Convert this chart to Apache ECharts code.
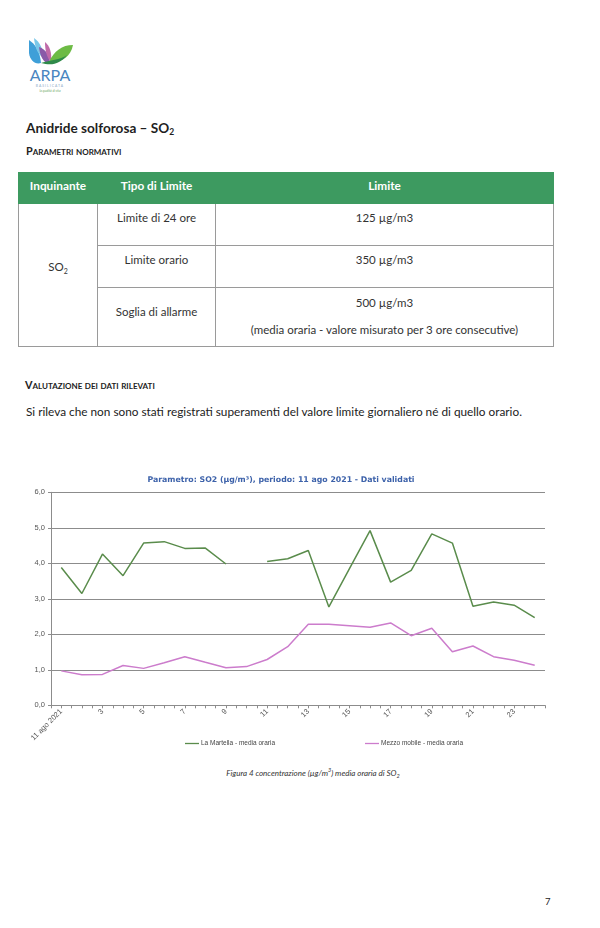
<!DOCTYPE html>
<html>
<head>
<meta charset="utf-8">
<script src="https://cdn.jsdelivr.net/npm/echarts@6/dist/echarts.min.js"></script>
<style>
  html, body { margin:0; padding:0; background:#fff; }
  body { width:600px; height:928px; position:relative; overflow:hidden; font-family:Lato, "Open Sans", sans-serif; color:#222; }
  .abs { position:absolute; }
  h1 { position:absolute; left:26px; top:120px; margin:0; font-size:13.6px; font-weight:bold; color:#1f1f1f; }
  h1 sub { font-size:8.5px; vertical-align:-2px; }
  .sc { position:absolute; margin:0; font-weight:bold; font-variant:small-caps; font-size:10.8px; color:#222; }
  table { position:absolute; left:18px; top:172px; width:536px; border-collapse:collapse; font-size:11.5px; color:#333; }
  td, th { border:1px solid #9a9a9a; text-align:center; vertical-align:middle; padding:0; }
  th { background:#3d9a60; color:#fff; font-weight:bold; font-size:11.8px; height:31px; padding-bottom:6px; box-sizing:border-box; border-color:#3d9a60; }
  td.r { height:42px; padding-bottom:14px; box-sizing:border-box; }
  p.txt { position:absolute; left:26px; top:404px; margin:0; font-size:11.8px; color:#222; white-space:nowrap; }
  #chart { position:absolute; left:0; top:465px; width:600px; height:300px; }
  .cap { position:absolute; left:0; width:626px; top:767px; text-align:center; font-style:italic; font-size:8px; color:#333; }
  .cap sup, .cap sub { font-size:5.5px; }
  .pg { position:absolute; left:545px; top:896px; font-size:9.5px; color:#222; }
</style>
</head>
<body>
<svg class="abs" style="left:25px;top:35px" width="52" height="64" viewBox="0 0 52 64">
  <path d="M4 5 C10 9 15 16 16 28 C10 30 5 25 4 18 Z" fill="#3f9fd8"/>
  <path d="M9 3 C15 7 18 14 19 23 C14 21 10 14 9 3 Z" fill="#7ac7e8"/>
  <path d="M14 12 C21 14 25 21 25 29 C18 28 15 21 14 12 Z" fill="#8a5aa8"/>
  <path d="M20 7 C25 11 27 18 26 27 C22 23 20 16 20 7 Z" fill="#c06aa8"/>
  <path d="M24 27 C29 16 37 10 48 10 C46 21 37 28 24 27 Z" fill="#6dbb45"/>
  <path d="M16 28 C25 25 35 25 42 20 C35 29 27 31 16 28 Z" fill="#2f8a4a"/>
  <text x="25" y="46" text-anchor="middle" font-family="Lato, sans-serif" font-size="16" fill="#4a86c0">ARPA</text>
  <text x="25" y="51.5" text-anchor="middle" font-family="Lato, sans-serif" font-size="3.4" fill="#8aa8c8" letter-spacing="1">BASILICATA</text>
  <text x="25" y="56.5" text-anchor="middle" font-family="Lato, sans-serif" font-style="italic" font-size="3.2" fill="#6aa860">la qualità di vita</text>
</svg>

<h1>Anidride solforosa – SO<sub>2</sub></h1>
<div class="sc" style="left:26px;top:144px;">Parametri normativi</div>

<table>
  <tr>
    <th style="width:79px">Inquinante</th>
    <th style="width:118px">Tipo di Limite</th>
    <th>Limite</th>
  </tr>
  <tr>
    <td rowspan="3" style="padding-bottom:15px">SO<sub style="font-size:7px">2</sub></td>
    <td class="r">Limite di 24 ore</td>
    <td class="r">125 µg/m3</td>
  </tr>
  <tr>
    <td class="r">Limite orario</td>
    <td class="r">350 µg/m3</td>
  </tr>
  <tr>
    <td style="height:59px;padding-bottom:12px;box-sizing:border-box">Soglia di allarme</td>
    <td style="height:59px;box-sizing:border-box">
      <div style="margin-top:-3px">500 µg/m3</div>
      <div style="margin-top:14px">(media oraria - valore misurato per 3 ore consecutive)</div>
    </td>
  </tr>
</table>

<div class="sc" style="left:25px;top:378px;">Valutazione dei dati rilevati</div>
<p class="txt">Si rileva che non sono stati registrati superamenti del valore limite giornaliero né di quello orario.</p>

<div id="chart"></div>
<div class="cap">Figura 4 concentrazione (µg/m<sup>3</sup>) media oraria di SO<sub>2</sub></div>
<div class="pg">7</div>

<script>
// ---- data ----
var hours = [1,2,3,4,5,6,7,8,9,10,11,12,13,14,15,16,17,18,19,20,21,22,23,24];
var laMartella = [3.88,3.15,4.26,3.65,4.57,4.61,4.42,4.43,3.98,null,4.05,4.13,4.36,2.77,3.85,4.92,3.47,3.80,4.83,4.57,2.79,2.91,2.82,2.47];
var mezzoMobile = [0.97,0.86,0.87,1.12,1.04,1.20,1.37,1.21,1.06,1.09,1.29,1.65,2.28,2.28,2.24,2.20,2.32,1.96,2.17,1.51,1.67,1.37,1.27,1.13];
var seriesNames = ['La Martella - media oraria', 'Mezzo mobile - media oraria'];
var firstLabel = '11 ago 2021';
var chartTitle = 'Parametro: SO2 (µg/m³), periodo: 11 ago 2021 - Dati validati';

function pairs(vals) {
  return hours.map(function (h, i) { return [h, vals[i]]; });
}

var chart = echarts.init(document.getElementById('chart'), null, { renderer: 'canvas' });
var lblFont = { fontFamily: 'Liberation Sans, Arial, sans-serif', fontSize: 7.5, color: '#555' };
var legText = { fontFamily: 'Liberation Sans, Arial, sans-serif', fontSize: 6.5, color: '#444', padding: [0, 0, 0, -3] };

chart.setOption({
  animation: false,
  grid: { left: 51, right: 55, top: 27.3, bottom: 59.7, containLabel: false },
  graphic: [{
    type: 'text', x: 281, y: 15,
    style: { text: chartTitle, align: 'center', verticalAlign: 'middle', textAlign: 'center', textVerticalAlign: 'middle',
             font: 'bold 7.8px "DejaVu Sans", Verdana, sans-serif', fill: '#3d62aa' }
  }],
  legend: [
    { data: [seriesNames[0]], left: 180, top: 270, icon: 'rect', itemWidth: 14, itemHeight: 1.3, itemGap: 0, textStyle: legText },
    { data: [seriesNames[1]], left: 360, top: 270, icon: 'rect', itemWidth: 14, itemHeight: 1.3, itemGap: 0, textStyle: legText }
  ],
  xAxis: {
    type: 'value', min: 0.5, max: 24.5, interval: 0.5,
    axisLine: { show: true, lineStyle: { color: '#8c8c8c', width: 1 } },
    axisTick: { show: true, length: 3, lineStyle: { color: '#8c8c8c' } },
    splitLine: { show: false },
    axisLabel: Object.assign({
      rotate: 45, margin: 5, showMinLabel: true, showMaxLabel: true,
      formatter: function (v) {
        if (v === 1) return firstLabel;
        if (Number.isInteger(v) && v % 2 === 1) return String(v);
        return '';
      }
    }, lblFont)
  },
  yAxis: {
    type: 'value', min: 0, max: 6, interval: 1,
    axisLine: { show: true, lineStyle: { color: '#8c8c8c', width: 1 } },
    axisTick: { show: true, length: 3, lineStyle: { color: '#8c8c8c' } },
    splitLine: { show: true, lineStyle: { color: '#8c8c8c', width: 1 } },
    axisLabel: Object.assign({
      margin: 6,
      formatter: function (v) { return v.toFixed(1).replace('.', ','); }
    }, lblFont)
  },
  series: [
    { name: seriesNames[0], type: 'line', data: pairs(laMartella), symbol: 'none', connectNulls: false,
      lineStyle: { color: '#5a8c4c', width: 1.5 }, itemStyle: { color: '#5a8c4c' } },
    { name: seriesNames[1], type: 'line', data: pairs(mezzoMobile), symbol: 'none',
      lineStyle: { color: '#cc7ccc', width: 1.5 }, itemStyle: { color: '#cc7ccc' } }
  ]
});
</script>
</body>
</html>
